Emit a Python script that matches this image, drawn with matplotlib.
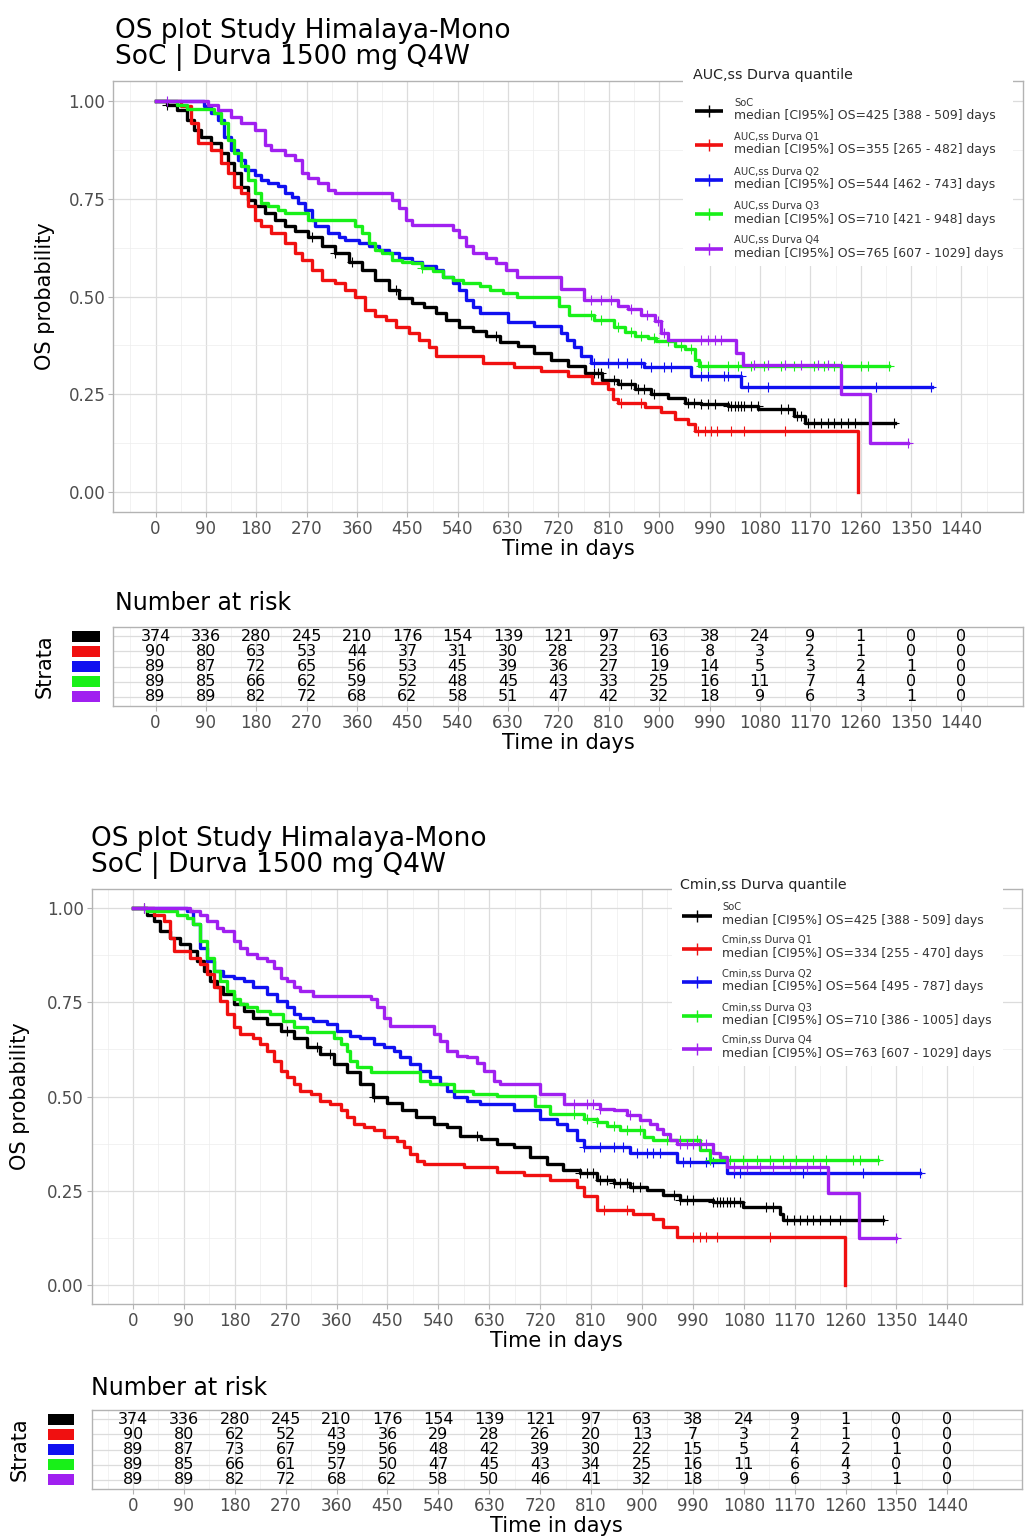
import matplotlib
matplotlib.use("Agg")
import matplotlib.pyplot as plt
import numpy as np

# ---------------------------------------------------------------------------
# Kaplan-Meier steps: time (days) and OS probability after each step.
# Panel A: strata by AUC,ss quantile
# ---------------------------------------------------------------------------
auc_soc_t = [0, 20, 39, 57, 69, 81, 99, 117, 129, 141, 153, 165, 177, 195, 213, 231, 250, 273, 297, 321,
             345, 369, 393, 417, 435, 459, 480, 501, 519, 543, 567, 591, 615, 647, 677, 707, 737, 767, 797, 827,
             856, 886, 916, 946, 975, 1023, 1077, 1140, 1160, 1321]
auc_soc_s = [1.0, 0.99, 0.976, 0.951, 0.925, 0.908, 0.891, 0.866, 0.84, 0.815, 0.78, 0.747, 0.73, 0.713, 0.696,
             0.679, 0.666, 0.653, 0.628, 0.611, 0.589, 0.568, 0.543, 0.517, 0.496, 0.483, 0.474, 0.457, 0.44,
             0.423, 0.411, 0.398, 0.385, 0.373, 0.356, 0.339, 0.322, 0.305, 0.288, 0.276, 0.263, 0.25, 0.242,
             0.229, 0.225, 0.22, 0.212, 0.195, 0.178, 0.178]
auc_q1_t = [0, 45, 63, 75, 99, 117, 129, 141, 153, 165, 177, 189, 207, 231, 249, 261, 279, 297, 321, 339,
            357, 375, 393, 411, 429, 453, 471, 489, 501, 585, 641, 689, 737, 779, 809, 818, 827, 874, 904, 928,
            952, 964, 1256]
auc_q1_s = [1.0, 0.985, 0.942, 0.891, 0.874, 0.84, 0.815, 0.78, 0.764, 0.73, 0.696, 0.679, 0.662, 0.636, 0.611,
            0.594, 0.568, 0.543, 0.534, 0.517, 0.5, 0.466, 0.449, 0.44, 0.423, 0.406, 0.389, 0.372, 0.347, 0.33,
            0.319, 0.309, 0.297, 0.28, 0.263, 0.238, 0.229, 0.217, 0.204, 0.187, 0.174, 0.156, 0.0]
auc_q2_t = [0, 87, 99, 111, 123, 135, 147, 159, 177, 189, 201, 219, 231, 243, 255, 267, 279, 285, 309, 327,
            339, 363, 381, 399, 417, 435, 459, 477, 501, 513, 531, 543, 555, 567, 579, 630, 677, 724, 736, 748,
            760, 778, 873, 957, 1047, 1387]
auc_q2_s = [1.0, 0.985, 0.968, 0.951, 0.908, 0.874, 0.849, 0.823, 0.81, 0.798, 0.789, 0.781, 0.764, 0.755, 0.738,
            0.721, 0.696, 0.679, 0.662, 0.653, 0.645, 0.636, 0.628, 0.619, 0.611, 0.598, 0.589, 0.577, 0.568,
            0.551, 0.534, 0.517, 0.491, 0.474, 0.457, 0.434, 0.424, 0.408, 0.39, 0.37, 0.348, 0.331, 0.319,
            0.297, 0.268, 0.268]
auc_q3_t = [0, 39, 57, 105, 117, 129, 141, 153, 165, 177, 189, 201, 219, 231, 273, 357, 369, 381, 393, 405,
            423, 441, 459, 477, 495, 513, 531, 549, 579, 597, 621, 645, 721, 738, 784, 820, 838, 856, 880, 894,
            929, 946, 964, 971, 1311]
auc_q3_s = [1.0, 0.989, 0.978, 0.968, 0.942, 0.9, 0.866, 0.832, 0.798, 0.764, 0.738, 0.73, 0.721, 0.713, 0.696,
            0.679, 0.662, 0.636, 0.619, 0.611, 0.594, 0.589, 0.585, 0.572, 0.564, 0.551, 0.543, 0.534, 0.526,
            0.517, 0.509, 0.5, 0.475, 0.454, 0.44, 0.421, 0.41, 0.40, 0.393, 0.386, 0.373, 0.365, 0.339, 0.322,
            0.322]
auc_q4_t = [0, 93, 111, 135, 153, 177, 195, 207, 231, 249, 261, 273, 291, 309, 321, 423, 435, 447, 459, 531,
            543, 555, 567, 591, 609, 627, 645, 725, 765, 826, 844, 868, 892, 904, 916, 1038, 1050, 1225, 1276,
            1345]
auc_q4_s = [1.0, 0.989, 0.976, 0.959, 0.942, 0.925, 0.887, 0.874, 0.861, 0.849, 0.815, 0.802, 0.789, 0.772,
            0.764, 0.747, 0.725, 0.696, 0.683, 0.67, 0.653, 0.628, 0.611, 0.598, 0.585, 0.568, 0.551, 0.518,
            0.492, 0.476, 0.467, 0.454, 0.437, 0.408, 0.39, 0.357, 0.326, 0.25, 0.127, 0.127]

# censoring times (days)
auc_soc_cens = [21, 279, 321, 351, 429, 609, 784, 790, 796, 820, 832, 850, 862, 873, 891, 951, 963, 975, 987,
                999, 1023, 1029, 1035, 1041, 1047, 1052, 1064, 1076, 1118, 1130, 1147, 1153, 1165, 1177, 1189,
                1201, 1213, 1225, 1237, 1249, 1320]
auc_q1_cens = [832, 867, 969, 981, 993, 1004, 1028, 1052, 1124]
auc_q2_cens = [784, 808, 826, 843, 867, 885, 909, 921, 975, 987, 1016, 1022, 1046, 1058, 1094, 1287, 1386]
auc_q3_cens = [477, 778, 796, 826, 849, 867, 891, 915, 939, 957, 975, 987, 1022, 1040, 1064, 1088, 1118, 1141,
               1177, 1195, 1213, 1225, 1261, 1273, 1311]
auc_q4_cens = [21, 778, 796, 814, 849, 879, 897, 909, 975, 987, 999, 1010, 1070, 1094, 1124, 1153, 1183, 1201,
               1345]

# ---------------------------------------------------------------------------
# Panel B: strata by Cmin,ss quantile
# ---------------------------------------------------------------------------
cmin_soc_t = [0, 25, 37, 48, 66, 84, 101, 113, 125, 137, 149, 160, 178, 196, 213, 237, 261, 284, 308, 331,
              355, 378, 402, 425, 450, 475, 500, 532, 555, 579, 615, 643, 673, 702, 732, 761, 791, 820, 850, 879,
              909, 938, 967, 1026, 1079, 1144, 1150, 1327]
cmin_soc_s = [1.0, 0.982, 0.965, 0.938, 0.921, 0.903, 0.885, 0.859, 0.833, 0.806, 0.789, 0.771, 0.744, 0.727,
              0.709, 0.692, 0.674, 0.656, 0.63, 0.612, 0.586, 0.564, 0.533, 0.5, 0.482, 0.463, 0.445, 0.427,
              0.419, 0.396, 0.388, 0.375, 0.366, 0.34, 0.322, 0.305, 0.296, 0.278, 0.27, 0.261, 0.252, 0.238,
              0.225, 0.22, 0.207, 0.189, 0.172, 0.172]
cmin_q1_t = [0, 37, 54, 66, 72, 101, 119, 131, 143, 154, 166, 178, 190, 213, 225, 237, 249, 261, 272, 284,
             296, 314, 331, 349, 367, 378, 390, 408, 426, 443, 467, 479, 490, 502, 514, 585, 643, 691, 738, 785,
             797, 820, 885, 920, 938, 962, 1259]
cmin_q1_s = [1.0, 0.982, 0.965, 0.921, 0.885, 0.868, 0.85, 0.824, 0.789, 0.753, 0.718, 0.683, 0.665, 0.656,
             0.639, 0.621, 0.595, 0.568, 0.551, 0.533, 0.515, 0.507, 0.489, 0.48, 0.463, 0.445, 0.427, 0.419,
             0.41, 0.392, 0.383, 0.366, 0.348, 0.33, 0.322, 0.313, 0.3, 0.291, 0.278, 0.261, 0.235, 0.198,
             0.189, 0.176, 0.154, 0.128, 0.0]
cmin_q2_t = [0, 95, 107, 119, 131, 143, 160, 178, 196, 213, 237, 255, 272, 284, 296, 319, 343, 361, 384, 402,
             426, 443, 461, 473, 490, 508, 526, 543, 555, 567, 591, 614, 673, 720, 749, 767, 785, 797, 879, 962,
             1050, 1391]
cmin_q2_s = [1.0, 0.991, 0.956, 0.894, 0.859, 0.833, 0.819, 0.815, 0.806, 0.789, 0.771, 0.753, 0.736, 0.718,
             0.709, 0.7, 0.692, 0.674, 0.661, 0.656, 0.639, 0.63, 0.621, 0.604, 0.586, 0.568, 0.551, 0.533,
             0.515, 0.498, 0.489, 0.48, 0.463, 0.441, 0.428, 0.41, 0.384, 0.366, 0.349, 0.326, 0.296, 0.296]
cmin_q3_t = [0, 25, 78, 95, 107, 119, 131, 143, 154, 166, 178, 190, 202, 219, 243, 266, 284, 308, 355, 367,
             378, 384, 396, 420, 508, 526, 567, 602, 644, 710, 738, 797, 820, 838, 861, 903, 920, 1003, 1020,
             1318]
cmin_q3_s = [1.0, 0.991, 0.982, 0.974, 0.956, 0.912, 0.868, 0.833, 0.806, 0.78, 0.758, 0.744, 0.736, 0.727,
             0.718, 0.7, 0.683, 0.67, 0.656, 0.639, 0.621, 0.595, 0.577, 0.564, 0.542, 0.533, 0.515, 0.507,
             0.502, 0.476, 0.454, 0.441, 0.432, 0.423, 0.41, 0.392, 0.384, 0.357, 0.331, 0.331]
cmin_q4_t = [0, 101, 119, 131, 149, 160, 178, 190, 202, 219, 237, 249, 261, 272, 284, 296, 319, 420, 431, 443,
             455, 532, 543, 555, 573, 591, 608, 620, 638, 649, 720, 763, 826, 850, 873, 897, 914, 926, 938, 950,
             962, 1026, 1038, 1050, 1229, 1283, 1350]
cmin_q4_s = [1.0, 0.991, 0.982, 0.965, 0.947, 0.938, 0.912, 0.894, 0.877, 0.868, 0.859, 0.841, 0.815, 0.806,
             0.789, 0.78, 0.767, 0.758, 0.736, 0.709, 0.687, 0.665, 0.648, 0.621, 0.608, 0.604, 0.59, 0.568,
             0.542, 0.533, 0.507, 0.48, 0.467, 0.463, 0.45, 0.437, 0.428, 0.415, 0.401, 0.384, 0.375, 0.349,
             0.34, 0.313, 0.243, 0.124, 0.124]

cmin_soc_cens = [19, 272, 325, 349, 426, 608, 791, 802, 814, 826, 838, 850, 861, 873, 885, 897, 956, 967, 979,
                 991, 1026, 1032, 1038, 1044, 1050, 1056, 1062, 1073, 1120, 1132, 1156, 1168, 1179, 1191, 1203,
                 1215, 1232, 1250, 1327]
cmin_q1_cens = [832, 873, 991, 1003, 1014, 1032, 1126]
cmin_q2_cens = [797, 826, 850, 867, 891, 909, 920, 932, 973, 985, 1014, 1026, 1062, 1073, 1185, 1291, 1391]
cmin_q3_cens = [779, 802, 820, 850, 873, 897, 944, 967, 997, 1020, 1056, 1079, 1103, 1126, 1150, 1173, 1203,
                1226, 1274, 1285, 1318]
cmin_q4_cens = [19, 779, 802, 814, 826, 879, 967, 979, 991, 1003, 1014, 1062, 1085, 1109, 1132, 1162, 1191,
                1215, 1350]

# ---------------------------------------------------------------------------
# Number at risk
# ---------------------------------------------------------------------------
risk_times = [0, 90, 180, 270, 360, 450, 540, 630, 720, 810, 900, 990, 1080, 1170, 1260, 1350, 1440]
auc_risk = [
    [374, 336, 280, 245, 210, 176, 154, 139, 121, 97, 63, 38, 24, 9, 1, 0, 0],
    [90, 80, 63, 53, 44, 37, 31, 30, 28, 23, 16, 8, 3, 2, 1, 0, 0],
    [89, 87, 72, 65, 56, 53, 45, 39, 36, 27, 19, 14, 5, 3, 2, 1, 0],
    [89, 85, 66, 62, 59, 52, 48, 45, 43, 33, 25, 16, 11, 7, 4, 0, 0],
    [89, 89, 82, 72, 68, 62, 58, 51, 47, 42, 32, 18, 9, 6, 3, 1, 0],
]
cmin_risk = [
    [374, 336, 280, 245, 210, 176, 154, 139, 121, 97, 63, 38, 24, 9, 1, 0, 0],
    [90, 80, 62, 52, 43, 36, 29, 28, 26, 20, 13, 7, 3, 2, 1, 0, 0],
    [89, 87, 73, 67, 59, 56, 48, 42, 39, 30, 22, 15, 5, 4, 2, 1, 0],
    [89, 85, 66, 61, 57, 50, 47, 45, 43, 34, 25, 16, 11, 6, 4, 0, 0],
    [89, 89, 82, 72, 68, 62, 58, 50, 46, 41, 32, 18, 9, 6, 3, 1, 0],
]

auc_names = ["SoC", "AUC,ss Durva Q1", "AUC,ss Durva Q2", "AUC,ss Durva Q3", "AUC,ss Durva Q4"]
auc_medians = ["median [CI95%] OS=425 [388 - 509] days", "median [CI95%] OS=355 [265 - 482] days",
               "median [CI95%] OS=544 [462 - 743] days", "median [CI95%] OS=710 [421 - 948] days",
               "median [CI95%] OS=765 [607 - 1029] days"]
cmin_names = ["SoC", "Cmin,ss Durva Q1", "Cmin,ss Durva Q2", "Cmin,ss Durva Q3", "Cmin,ss Durva Q4"]
cmin_medians = ["median [CI95%] OS=425 [388 - 509] days", "median [CI95%] OS=334 [255 - 470] days",
                "median [CI95%] OS=564 [495 - 787] days", "median [CI95%] OS=710 [386 - 1005] days",
                "median [CI95%] OS=763 [607 - 1029] days"]

strata_colors = ["#000000", "#F01010", "#1010F0", "#18F018", "#A020F0"]

BORDER = "#B3B3B3"
GRID_MAJOR = "#DCDCDC"
GRID_MINOR = "#EDEDED"
TICK_TEXT = "#4D4D4D"

W, H = 1032, 1538
fig = plt.figure(figsize=(W / 100, H / 100), dpi=100)
plt.rcParams["font.family"] = ["DejaVu Sans"]


def px_axes(left, top, right, bottom):
    return fig.add_axes([left / W, 1 - bottom / H, (right - left) / W, (bottom - top) / H])


def px_text(x, y, s, **kw):
    fig.text(x / W, 1 - y / H, s, **kw)


def light_theme(ax):
    for sp in ax.spines.values():
        sp.set_color(BORDER)
        sp.set_linewidth(1.0)
    ax.grid(which="major", color=GRID_MAJOR, lw=0.9)
    ax.grid(which="minor", color=GRID_MINOR, lw=0.5)
    ax.set_axisbelow(True)
    ax.tick_params(which="major", length=3.5, width=0.8, color=BORDER, labelcolor=TICK_TEXT,
                   labelsize=12, pad=2)
    ax.tick_params(which="minor", length=0)


def time_axis(ax, xlim):
    ax.set_xlim(xlim)
    ax.set_xticks(risk_times)
    ax.set_xticks(np.arange(-45, 1500, 90), minor=True)
    ax.set_xlabel("Time in days", fontsize=15, labelpad=1)


def km_panel(ax, curves, xlim):
    for (t, s, cens), color in zip(curves, strata_colors):
        t = np.asarray(t, dtype=float)
        s = np.asarray(s, dtype=float)
        ax.step(t, s, where="post", color=color, lw=2.4)
        idx = np.searchsorted(t, cens, side="right") - 1
        ax.plot(cens, s[idx], ls="none", marker="+", ms=7, mew=0.8, color=color)
    light_theme(ax)
    time_axis(ax, xlim)
    ax.set_ylim(-0.05, 1.05)
    ax.set_yticks([0, 0.25, 0.5, 0.75, 1.0])
    ax.set_yticklabels(["0.00", "0.25", "0.50", "0.75", "1.00"])
    ax.set_yticks([0.125, 0.375, 0.625, 0.875], minor=True)


def risk_panel(ax, rows, xlim):
    for i, counts in enumerate(rows):
        for t, n in zip(risk_times, counts):
            ax.text(t, i + 1, str(n), ha="center", va="center", fontsize=11.5, color="black")
    light_theme(ax)
    time_axis(ax, xlim)
    ax.set_ylim(len(rows) + 0.6, 0.4)
    ax.set_yticks(range(1, len(rows) + 1))
    ax.tick_params(axis="y", length=0, labelleft=False)


def strata_keys(ax, n):
    ax.barh(range(1, n + 1), [1] * n, height=0.72, color=strata_colors)
    ax.set_xlim(0, 1)
    ax.set_ylim(n + 0.6, 0.4)
    ax.axis("off")


def legend_box(box, title, title_xy, names, medians, centers, key_x, text_x):
    left, top, right, bottom = box
    lg = px_axes(left, top, right, bottom)
    lg.set_xlim(left, right)
    lg.set_ylim(bottom, top)
    lg.set_xticks([])
    lg.set_yticks([])
    for sp in lg.spines.values():
        sp.set_visible(False)
    lg.text(title_xy[0], title_xy[1], title, fontsize=10.3, va="center", ha="left", color="#222222")
    for name, med, yc, color in zip(names, medians, centers, strata_colors):
        lg.plot(key_x, [yc + 1.5, yc + 1.5], color=color, lw=2.6, solid_capstyle="butt")
        lg.plot([np.mean(key_x)], [yc + 1.5], marker="+", ms=9, mew=1.0, color=color)
        lg.text(text_x, yc - 6.5, name, fontsize=7.2, va="center", ha="left", color="#333333")
        lg.text(text_x, yc + 6.5, med, fontsize=8.9, va="center", ha="left", color="#333333")


def study_panel(layout, curves, risk_rows, legend_title, names, medians):
    (km_box, km_xlim, title_x, title_y, ylab_x, tab_box, key_box, strata_x, nar_y,
     leg_box, leg_title_xy, leg_centers, leg_key_x, leg_text_x) = layout

    px_text(title_x, title_y[0], "OS plot Study Himalaya-Mono", fontsize=19, va="baseline", ha="left")
    px_text(title_x, title_y[1], "SoC | Durva 1500 mg Q4W", fontsize=19, va="baseline", ha="left")

    ax = px_axes(*km_box)
    km_panel(ax, curves, km_xlim)
    px_text(ylab_x, (km_box[1] + km_box[3]) / 2, "OS probability", fontsize=15, rotation=90,
            va="center", ha="center")

    legend_box(leg_box, legend_title, leg_title_xy, names, medians, leg_centers, leg_key_x, leg_text_x)

    px_text(title_x, nar_y, "Number at risk", fontsize=17, va="baseline", ha="left")
    tab = px_axes(*tab_box)
    risk_panel(tab, risk_rows, km_xlim)
    keys = px_axes(*key_box)
    strata_keys(keys, len(risk_rows))
    px_text(strata_x, (tab_box[1] + tab_box[3]) / 2, "Strata", fontsize=15, rotation=90,
            va="center", ha="center")


auc_curves = [(auc_soc_t, auc_soc_s, auc_soc_cens), (auc_q1_t, auc_q1_s, auc_q1_cens),
              (auc_q2_t, auc_q2_s, auc_q2_cens), (auc_q3_t, auc_q3_s, auc_q3_cens),
              (auc_q4_t, auc_q4_s, auc_q4_cens)]
cmin_curves = [(cmin_soc_t, cmin_soc_s, cmin_soc_cens), (cmin_q1_t, cmin_q1_s, cmin_q1_cens),
               (cmin_q2_t, cmin_q2_s, cmin_q2_cens), (cmin_q3_t, cmin_q3_s, cmin_q3_cens),
               (cmin_q4_t, cmin_q4_s, cmin_q4_cens)]

# pixel layout: km box (l, t, r, b), xlim, title x, title baselines, ylabel x,
# table box, key box, strata x, "Number at risk" baseline, legend box, legend title xy,
# legend entry centres, key line x, legend text x
top_layout = ((113, 81, 1023, 512), (-76, 1550), 115, (38, 64), 45,
              (113, 627, 1023, 706), (72, 627, 100, 706), 45, 610,
              (683, 64, 1013, 266), (693, 75), (109, 143.5, 178, 212.5, 247), (695, 723), 734)
bottom_layout = ((91.7, 889, 1022, 1304), (-73, 1572), 91, (846, 872), 20,
                 (91.7, 1410, 1022, 1489), (48, 1410, 74, 1489), 20, 1395,
                 (672, 872, 1003, 1066), (680, 885), (914, 947, 980, 1014, 1047), (682, 712), 722)

study_panel(top_layout, auc_curves, auc_risk, "AUC,ss Durva quantile", auc_names, auc_medians)
study_panel(bottom_layout, cmin_curves, cmin_risk, "Cmin,ss Durva quantile", cmin_names, cmin_medians)

fig.savefig("out.png", dpi=100, facecolor="white")
